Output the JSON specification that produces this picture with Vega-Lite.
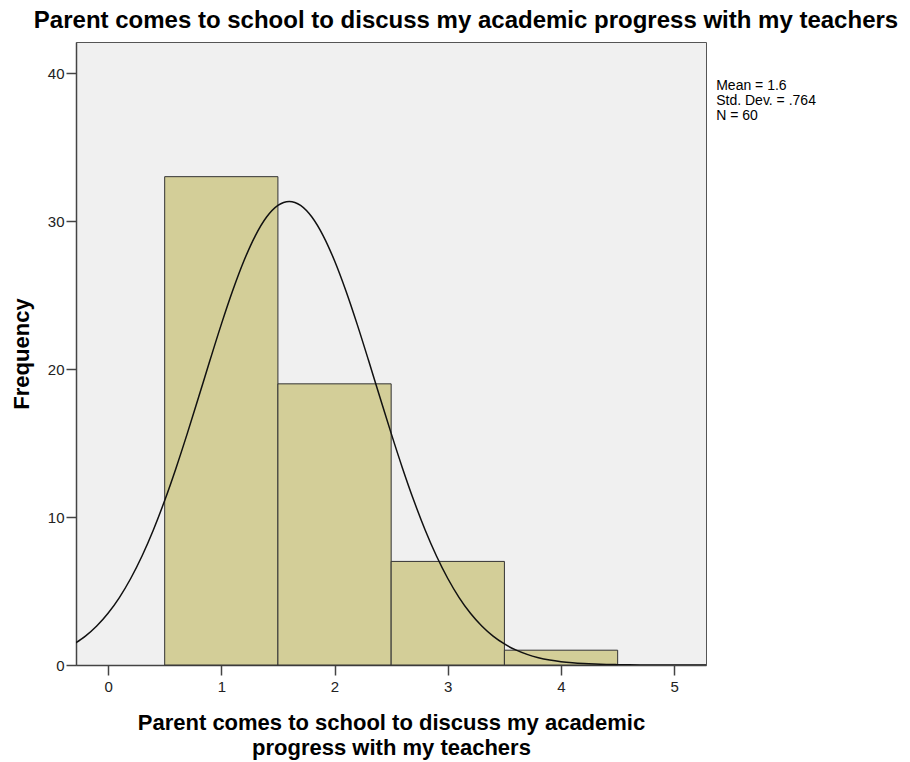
{
  "$schema": "https://vega.github.io/schema/vega-lite/v6.json",
  "width": 630,
  "height": 623,
  "autosize": {"type": "none"},
  "padding": {"left": 76, "top": 42, "right": 204, "bottom": 97},
  "background": "white",
  "title": {
    "text": "Parent comes to school to discuss my academic progress with my teachers",
    "anchor": "middle",
    "frame": "group",
    "dx": 75,
    "offset": 9,
    "font": "Liberation Sans",
    "fontSize": 24,
    "fontWeight": "bold",
    "color": "#000000"
  },
  "config": {
    "view": {"fill": "#f0f0f0", "stroke": "#555555", "strokeWidth": 1},
    "axis": {
      "labelFont": "Liberation Sans",
      "labelFontSize": 15,
      "labelColor": "#222222",
      "titleFont": "Liberation Sans",
      "titleFontSize": 22,
      "titleFontWeight": "bold",
      "titleColor": "#000000",
      "domainColor": "#444444",
      "domainWidth": 1.5,
      "tickColor": "#444444",
      "tickWidth": 1.5,
      "tickSize": 10,
      "grid": false
    }
  },
  "datasets": {
    "bins": [
      {"value": 1, "start": 0.5, "end": 1.5, "count": 33},
      {"value": 2, "start": 1.5, "end": 2.5, "count": 19},
      {"value": 3, "start": 2.5, "end": 3.5, "count": 7},
      {"value": 4, "start": 3.5, "end": 4.5, "count": 1}
    ],
    "curve": [
      {"x": -0.3, "y": 1.422}, {"x": -0.2, "y": 1.952}, {"x": -0.1, "y": 2.635},
      {"x": 0.0, "y": 3.496}, {"x": 0.1, "y": 4.559}, {"x": 0.2, "y": 5.845},
      {"x": 0.3, "y": 7.366}, {"x": 0.4, "y": 9.125}, {"x": 0.5, "y": 11.113},
      {"x": 0.6, "y": 13.303}, {"x": 0.7, "y": 15.653}, {"x": 0.8, "y": 18.108},
      {"x": 0.9, "y": 20.59}, {"x": 1.0, "y": 23.018}, {"x": 1.1, "y": 25.29},
      {"x": 1.2, "y": 27.317}, {"x": 1.3, "y": 29.005}, {"x": 1.4, "y": 30.275},
      {"x": 1.5, "y": 31.063}, {"x": 1.6, "y": 31.33}, {"x": 1.7, "y": 31.063},
      {"x": 1.8, "y": 30.275}, {"x": 1.9, "y": 29.005}, {"x": 2.0, "y": 27.317},
      {"x": 2.1, "y": 25.29}, {"x": 2.2, "y": 23.018}, {"x": 2.3, "y": 20.59},
      {"x": 2.4, "y": 18.108}, {"x": 2.5, "y": 15.653}, {"x": 2.6, "y": 13.303},
      {"x": 2.7, "y": 11.113}, {"x": 2.8, "y": 9.125}, {"x": 2.9, "y": 7.366},
      {"x": 3.0, "y": 5.845}, {"x": 3.1, "y": 4.559}, {"x": 3.2, "y": 3.496},
      {"x": 3.3, "y": 2.635}, {"x": 3.4, "y": 1.952}, {"x": 3.5, "y": 1.422},
      {"x": 3.6, "y": 1.018}, {"x": 3.7, "y": 0.717}, {"x": 3.8, "y": 0.496},
      {"x": 3.9, "y": 0.337}, {"x": 4.0, "y": 0.225}, {"x": 4.1, "y": 0.148},
      {"x": 4.2, "y": 0.096}, {"x": 4.3, "y": 0.061}, {"x": 4.4, "y": 0.038},
      {"x": 4.5, "y": 0.023}, {"x": 4.6, "y": 0.014}, {"x": 4.7, "y": 0.008},
      {"x": 4.8, "y": 0.005}, {"x": 4.9, "y": 0.003}, {"x": 5.0, "y": 0.002},
      {"x": 5.1, "y": 0.001}, {"x": 5.2, "y": 0.0005}, {"x": 5.3, "y": 0.0003}
    ],
    "stats": [
      {"label": "Mean = 1.6\nStd. Dev. = .764\nN = 60"}
    ]
  },
  "layer": [
    {
      "data": {"name": "bins"},
      "mark": {"type": "rect", "fill": "#d3ce98", "stroke": "#333333", "strokeWidth": 1},
      "encoding": {
        "x": {
          "field": "start", "type": "quantitative",
          "scale": {"domain": [-0.283, 5.28], "nice": false, "zero": false},
          "axis": {
            "values": [0, 1, 2, 3, 4, 5],
            "format": "d",
            "labelPadding": 4,
            "title": ["Parent comes to school to discuss my academic", "progress with my teachers"],
            "titlePadding": 18,
            "titleLineHeight": 25
          }
        },
        "x2": {"field": "end"},
        "y": {
          "field": "count", "type": "quantitative",
          "scale": {"domain": [0, 42.1], "nice": false},
          "axis": {
            "values": [0, 10, 20, 30, 40],
            "title": "Frequency",
            "labelPadding": 2,
            "titlePadding": 14
          }
        },
        "y2": {"datum": 0}
      }
    },
    {
      "data": {"name": "curve"},
      "mark": {"type": "line", "color": "#111111", "strokeWidth": 1.5, "clip": true, "interpolate": "monotone"},
      "encoding": {
        "x": {"field": "x", "type": "quantitative"},
        "y": {"field": "y", "type": "quantitative"}
      }
    },
    {
      "data": {"name": "stats"},
      "mark": {
        "type": "text", "align": "left", "baseline": "top",
        "lineBreak": "\n", "font": "Liberation Sans", "fontSize": 14,
        "lineHeight": 15, "color": "#000000"
      },
      "encoding": {
        "text": {"field": "label"},
        "x": {"datum": 5.37},
        "y": {"datum": 39.6}
      }
    }
  ]
}
